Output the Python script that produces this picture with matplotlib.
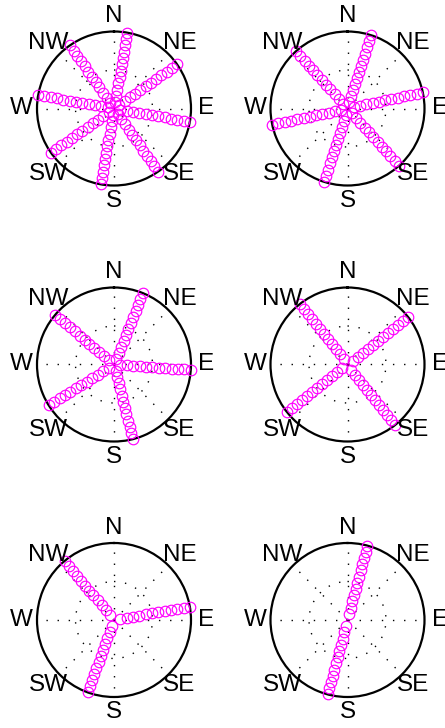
import matplotlib
matplotlib.use("Agg")
import matplotlib.pyplot as plt
import numpy as np

plt.rcParams["font.family"] = ["Liberation Sans", "DejaVu Sans"]

# spoke bearings (degrees clockwise from north) for each panel
BEARINGS_1 = [10, 55, 100, 145, 190, 235, 280, 325]
BEARINGS_2 = [18, 78, 138, 198, 258, 318]
BEARINGS_3 = [22, 94, 166, 238, 310]
BEARINGS_4 = [52, 142, 232, 322]
BEARINGS_5 = [80, 200, 320]
BEARINGS_6 = [15, 195]

# radial positions of the markers along every spoke
RADII = [0.083, 0.167, 0.25, 0.333, 0.417, 0.5,
         0.583, 0.667, 0.75, 0.833, 0.917, 1.0]

COMPASS = ["N", "NE", "E", "SE", "S", "SW", "W", "NW"]
COMPASS_DEG = [0, 45, 90, 135, 180, 225, 270, 315]
GRID_RING = 0.5
GRID_REACH = 0.9

W, H = 445, 728
COL_X = [114, 347.5]
ROW_Y = [108.5, 364.5, 620]
R_PX = 77

fig = plt.figure(figsize=(W / 100, H / 100), dpi=100)
fig.patch.set_facecolor("white")

panels = [BEARINGS_1, BEARINGS_2, BEARINGS_3, BEARINGS_4, BEARINGS_5, BEARINGS_6]

for i, bearings in enumerate(panels):
    cx = COL_X[i % 2]
    cy = ROW_Y[i // 2]
    ax = fig.add_axes([(cx - R_PX) / W, 1 - (cy + R_PX) / H,
                       2 * R_PX / W, 2 * R_PX / H], projection="polar")
    ax.set_theta_zero_location("N")
    ax.set_theta_direction(-1)
    ax.set_ylim(0, 1)
    ax.grid(False)
    ax.set_xticks([])
    ax.set_yticks([])
    ax.spines["polar"].set_linewidth(1.6)
    ax.spines["polar"].set_color("black")

    dots = dict(color="black", linewidth=1.0, linestyle=(0, (1, 7)),
                zorder=1)
    for d in COMPASS_DEG:
        t = np.deg2rad(d)
        ax.plot([t, t], [0, GRID_REACH], **dots)
    ring = np.linspace(0, 2 * np.pi, 200)
    ax.plot(ring, np.full_like(ring, GRID_RING), **dots)

    for b in bearings:
        theta = np.full(len(RADII), np.deg2rad(b))
        ax.plot(theta, RADII, linestyle="none", marker="o", markersize=7.6,
                markerfacecolor="none", markeredgecolor="#ff00ff",
                markeredgewidth=0.85, clip_on=False, zorder=3)

    for lab, d in zip(COMPASS, COMPASS_DEG):
        ax.text(np.deg2rad(d), 1.2, lab, ha="center", va="center",
                fontsize=17.5, color="black", clip_on=False)

fig.savefig("out.png", dpi=100, facecolor="white")
